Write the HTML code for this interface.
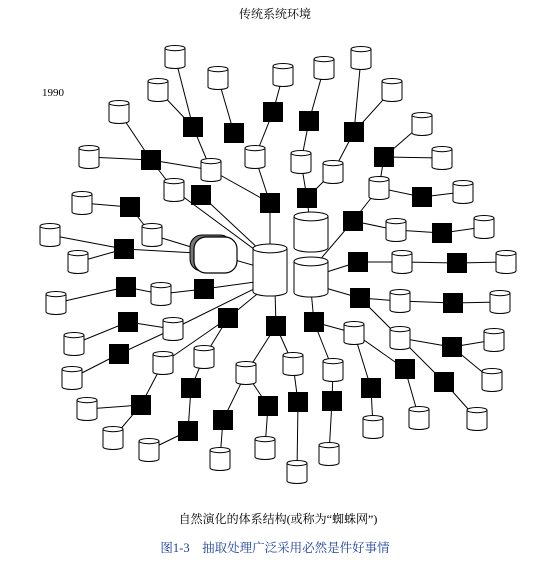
<!DOCTYPE html>
<html><head><meta charset="utf-8"><style>
html,body{margin:0;padding:0;background:#fff;}
svg{display:block;}
text{font-family:"Liberation Serif","Noto Serif CJK SC",serif;}
</style></head><body>
<svg id="diagram" width="550" height="563" viewBox="0 0 550 563">
<text x="275" y="18" font-size="12" text-anchor="middle">传统系统环境</text>
<text x="42" y="96" font-size="11">1990</text>
<g id="edges" stroke="#000" stroke-width="1"></g>
<g id="nodes"></g>
<text x="278" y="523" font-size="12" text-anchor="middle">自然演化的体系结构(或称为“蜘蛛网”)</text>
<text x="275" y="552" font-size="12.5" text-anchor="middle" fill="#1a3fa0">图1-3　抽取处理广泛采用必然是件好事情</text>
</svg>
<script>
const NS="http://www.w3.org/2000/svg";
const hubA=[270,270], hubB=[311,277], hubC=[311,232], hubD=[214,254];
const cylinders=[[175,57],[218,78],[158,90],[119,112],[89,157],[211,170],[174,190],[255,157],[82,203],[152,235],[50,235],[78,262],
[283,75],[324,68],[361,58],[392,90],[422,124],[442,158],[301,162],[333,172],[379,188],[463,192],[396,230],[484,227],[402,262],[506,262],
[56,303],[161,294],[173,329],[74,344],[72,378],[163,363],[204,357],[246,373],[87,409],[113,438],[149,450],[220,459],[265,448],
[400,301],[500,302],[354,333],[400,338],[494,340],[293,364],[333,370],[492,380],[373,427],[419,418],[477,419],[329,454],[297,472]];
const squares=[[193,127],[234,133],[151,160],[201,195],[270,203],[130,207],[124,249],[273,112],
[309,121],[354,132],[384,157],[307,198],[353,221],[422,197],[442,233],[358,262],[457,263],
[126,287],[204,289],[128,322],[119,354],[228,318],[276,326],[141,405],[191,388],[188,431],[223,420],[268,406],
[360,298],[314,322],[453,303],[405,369],[452,347],[444,382],[371,388],[332,401],[298,402]];
const edges=[
[175,57,193,127],[158,90,193,127],[193,127,211,170],[218,78,234,133],[211,170,270,203],[270,203,270,250],[255,157,270,203],[255,157,273,112],[273,112,283,75],
[119,112,151,160],[89,157,151,160],[151,160,211,170],[151,160,174,190],[174,190,262,255],[201,195,262,252],
[82,203,130,207],[130,207,152,235],[152,235,214,254],[50,235,124,249],[78,262,124,249],[124,249,214,254],[214,254,270,270],
[324,68,309,121],[309,121,301,162],[301,162,307,198],[307,198,311,232],[307,198,333,172],[333,172,354,132],[354,132,361,58],[354,132,392,90],
[422,124,384,157],[384,157,442,158],[384,157,379,188],[379,188,422,197],[422,197,463,192],[379,188,353,221],[353,221,318,262],[353,221,396,230],
[396,230,442,233],[442,233,484,227],[311,277,358,262],[358,262,402,262],[402,262,457,263],[457,263,506,262],
[270,280,204,289],[204,289,161,294],[161,294,126,287],[126,287,56,303],[262,285,173,329],[173,329,128,322],[128,322,74,344],[173,329,119,354],[119,354,72,378],
[262,290,228,318],[228,318,163,363],[228,318,204,357],[163,363,141,405],[141,405,87,409],[141,405,113,438],[204,357,191,388],[191,388,188,431],[188,431,149,450],
[275,290,276,326],[276,326,246,373],[276,326,293,364],[246,373,223,420],[223,420,220,459],[246,373,268,406],[268,406,265,448],
[293,364,298,402],[298,402,297,472],
[315,285,360,298],[360,298,400,301],[400,301,453,303],[453,303,500,302],[360,298,400,338],[400,338,452,347],[452,347,494,340],[452,347,492,380],[400,338,444,382],[444,382,477,419],
[311,290,314,322],[314,322,354,333],[314,322,333,370],[354,333,371,388],[354,333,405,369],[405,369,419,418],[371,388,373,427],[333,370,332,401],[332,401,329,454]];
const eg=document.getElementById('edges'), ng=document.getElementById('nodes');
edges.forEach(e=>{const l=document.createElementNS(NS,'line');
l.setAttribute('x1',e[0]);l.setAttribute('y1',e[1]);l.setAttribute('x2',e[2]);l.setAttribute('y2',e[3]);


eg.appendChild(l);});
function cyl(cx,cy,w,h,name){const g=document.createElementNS(NS,'g');


const rx=w/2,ry=Math.max(2.5,w*0.13),x=cx-rx,y=cy-h/2;
const p=document.createElementNS(NS,'path');
p.setAttribute('d',`M${x},${y+ry} V${y+h-ry} A${rx},${ry} 0 0 0 ${x+w},${y+h-ry} V${y+ry}`);
p.setAttribute('fill','#fff');p.setAttribute('stroke','#000');p.setAttribute('stroke-width','1');
const el=document.createElementNS(NS,'ellipse');
el.setAttribute('cx',cx);el.setAttribute('cy',y+ry);el.setAttribute('rx',rx);el.setAttribute('ry',ry);
el.setAttribute('fill','#fff');el.setAttribute('stroke','#000');el.setAttribute('stroke-width','1');
g.appendChild(p);g.appendChild(el);ng.appendChild(g);}
cylinders.forEach(c=>cyl(c[0],c[1],20,23,'database-cylinder'));
squares.forEach(s=>{const r=document.createElementNS(NS,'rect');
r.setAttribute('x',s[0]-10);r.setAttribute('y',s[1]-10);r.setAttribute('width',20);r.setAttribute('height',20);r.setAttribute('fill','#000');


ng.appendChild(r);});
// hubs
const sh=document.createElementNS(NS,'rect');
sh.setAttribute('x',hubD[0]-24);sh.setAttribute('y',hubD[1]-19);sh.setAttribute('width',42);sh.setAttribute('height',36);sh.setAttribute('rx',12);
sh.setAttribute('fill','#777');sh.setAttribute('stroke','#000');


ng.appendChild(sh);
const rd=document.createElementNS(NS,'rect');
rd.setAttribute('x',hubD[0]-20);rd.setAttribute('y',hubD[1]-17);rd.setAttribute('width',43);rd.setAttribute('height',36);rd.setAttribute('rx',12);
rd.setAttribute('fill','#fff');rd.setAttribute('stroke','#000');rd.setAttribute('stroke-width','1.2');


ng.appendChild(rd);
cyl(hubC[0],hubC[1],34,40,'central-database-top');
cyl(hubA[0],hubA[1],34,52,'central-database-main');
cyl(hubB[0],hubB[1],34,40,'central-database-right');
</script>
</body></html>
